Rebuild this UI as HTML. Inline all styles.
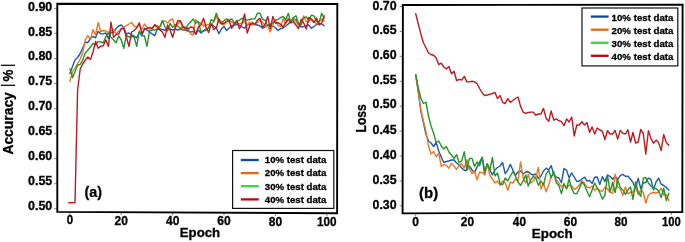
<!DOCTYPE html><html><head><meta charset="utf-8"><style>
html,body{margin:0;padding:0;background:#fff;width:685px;height:242px;overflow:hidden}
svg{display:block} text{font-family:"Liberation Sans", Arial, sans-serif;font-weight:bold;fill:#000;stroke:#000;stroke-width:0.3px}
</style></head><body>
<svg width="685" height="242" viewBox="0 0 685 242">
<clipPath id="ca"><rect x="57.3" y="4.0" width="279.9" height="207.8"/></clipPath>
<g clip-path="url(#ca)" fill="none" stroke-width="1.4" stroke-linejoin="round" stroke-linecap="round">
<polyline stroke="#1c5aaa" points="69.9,73.5 72.5,66.4 75.0,60.0 77.6,57.5 80.2,53.5 82.7,48.0 85.3,42.0 87.9,42.7 90.5,38.3 93.0,36.5 95.6,37.8 98.2,31.3 100.7,33.7 103.3,33.9 105.9,33.0 108.4,38.5 111.0,32.5 113.6,32.4 116.1,28.5 118.7,26.0 121.3,25.0 123.8,27.8 126.4,34.0 129.0,33.0 131.6,35.0 134.1,36.0 136.7,38.0 139.3,32.0 141.8,36.0 144.4,28.3 147.0,30.0 149.5,32.0 152.1,33.9 154.7,35.7 157.2,29.5 159.8,29.0 162.4,29.5 165.0,30.2 167.5,28.5 170.1,29.0 172.7,30.0 175.2,29.0 177.8,30.0 180.4,29.0 182.9,30.0 185.5,30.0 188.1,31.0 190.6,32.0 193.2,31.5 195.8,33.9 198.3,30.0 200.9,33.1 203.5,31.0 206.1,30.0 208.6,28.0 211.2,23.8 213.8,26.0 216.3,28.0 218.9,33.7 221.5,29.0 224.0,26.3 226.6,30.6 229.2,28.0 231.7,25.7 234.3,25.0 236.9,24.4 239.5,25.5 242.0,26.9 244.6,28.2 247.2,25.0 249.7,24.0 252.3,24.5 254.9,24.5 257.4,25.0 260.0,26.0 262.6,28.2 265.1,27.0 267.7,25.0 270.3,25.0 272.9,26.0 275.4,27.5 278.0,30.6 280.6,28.5 283.1,28.0 285.7,26.0 288.3,24.0 290.8,21.0 293.4,20.0 296.0,19.5 298.5,24.5 301.1,27.0 303.7,26.5 306.2,26.0 308.8,25.0 311.4,28.2 314.0,26.5 316.5,24.5 319.1,23.5 321.7,24.0 324.2,25.7"/>
<polyline stroke="#ee7622" points="69.9,81.4 72.5,72.0 75.0,68.0 77.6,63.6 80.2,59.0 82.7,53.0 85.3,39.6 87.9,35.7 90.5,39.5 93.0,29.6 95.6,35.0 98.2,22.5 100.7,31.5 103.3,30.5 105.9,31.0 108.4,32.4 111.0,31.0 113.6,29.3 116.1,34.3 118.7,31.0 121.3,29.0 123.8,26.9 126.4,25.6 129.0,24.0 131.6,22.5 134.1,26.0 136.7,26.9 139.3,24.4 141.8,29.3 144.4,24.0 147.0,27.5 149.5,29.0 152.1,27.5 154.7,26.0 157.2,25.5 159.8,27.0 162.4,22.0 165.0,21.0 167.5,23.0 170.1,20.0 172.7,19.0 175.2,28.0 177.8,24.0 180.4,21.0 182.9,30.0 185.5,27.0 188.1,28.0 190.6,34.0 193.2,35.0 195.8,19.6 198.3,22.5 200.9,23.0 203.5,26.0 206.1,25.0 208.6,24.5 211.2,24.0 213.8,22.0 216.3,16.4 218.9,22.5 221.5,24.0 224.0,24.5 226.6,22.5 229.2,20.1 231.7,22.0 234.3,24.0 236.9,23.0 239.5,24.0 242.0,22.5 244.6,21.5 247.2,25.0 249.7,22.0 252.3,24.5 254.9,24.0 257.4,22.5 260.0,20.5 262.6,22.0 265.1,26.0 267.7,25.5 270.3,31.9 272.9,24.5 275.4,20.0 278.0,25.5 280.6,26.5 283.1,18.9 285.7,24.0 288.3,19.5 290.8,21.5 293.4,17.5 296.0,21.5 298.5,25.0 301.1,22.5 303.7,16.0 306.2,21.5 308.8,22.0 311.4,18.5 314.0,21.5 316.5,23.8 319.1,22.0 321.7,19.0 324.2,20.7"/>
<polyline stroke="#22952a" points="69.9,68.6 72.5,77.7 75.0,71.8 77.6,65.0 80.2,64.5 82.7,60.0 85.3,53.0 87.9,50.0 90.5,47.0 93.0,43.3 95.6,45.2 98.2,41.4 100.7,42.0 103.3,42.7 105.9,36.5 108.4,33.0 111.0,37.1 113.6,40.0 116.1,42.7 118.7,36.0 121.3,40.0 123.8,48.3 126.4,35.2 129.0,37.0 131.6,36.5 134.1,37.0 136.7,46.3 139.3,31.0 141.8,35.5 144.4,36.0 147.0,46.3 149.5,31.0 152.1,30.0 154.7,30.0 157.2,28.8 159.8,27.0 162.4,20.5 165.0,27.0 167.5,31.0 170.1,23.3 172.7,27.4 175.2,24.6 177.8,26.0 180.4,28.3 182.9,27.0 185.5,28.3 188.1,24.6 190.6,22.0 193.2,19.0 195.8,23.3 198.3,21.5 200.9,31.9 203.5,30.6 206.1,29.0 208.6,28.0 211.2,19.5 213.8,21.3 216.3,13.3 218.9,20.1 221.5,22.6 224.0,20.7 226.6,18.9 229.2,20.1 231.7,18.9 234.3,23.2 236.9,21.3 239.5,20.1 242.0,18.3 244.6,19.5 247.2,20.1 249.7,19.5 252.3,18.9 254.9,18.9 257.4,13.3 260.0,13.3 262.6,19.5 265.1,20.1 267.7,25.7 270.3,24.4 272.9,22.6 275.4,20.1 278.0,19.5 280.6,17.6 283.1,16.4 285.7,20.0 288.3,13.3 290.8,22.5 293.4,17.5 296.0,15.8 298.5,23.8 301.1,25.0 303.7,17.6 306.2,17.0 308.8,20.0 311.4,15.2 314.0,16.0 316.5,21.5 319.1,22.0 321.7,13.3 324.2,18.3"/>
<polyline stroke="#bf1820" points="68.8,202.8 72.5,202.8 75.0,202.8 77.6,90.0 80.2,69.0 82.7,64.0 85.3,60.0 87.9,57.0 90.5,59.4 93.0,52.0 95.6,41.4 98.2,48.3 100.7,46.4 103.3,45.8 105.9,40.0 108.4,46.4 111.0,22.1 113.6,37.4 116.1,34.6 118.7,34.0 121.3,28.5 123.8,28.7 126.4,37.0 129.0,46.5 131.6,32.0 134.1,30.5 136.7,28.0 139.3,22.8 141.8,33.3 144.4,29.6 147.0,28.5 149.5,27.4 152.1,29.0 154.7,24.6 157.2,27.0 159.8,30.0 162.4,32.0 165.0,37.4 167.5,25.0 170.1,30.0 172.7,37.4 175.2,28.0 177.8,20.5 180.4,21.0 182.9,26.0 185.5,28.5 188.1,29.0 190.6,27.0 193.2,27.5 195.8,34.4 198.3,27.0 200.9,25.0 203.5,18.3 206.1,27.5 208.6,32.5 211.2,23.8 213.8,29.4 216.3,28.2 218.9,18.9 221.5,23.8 224.0,23.2 226.6,21.3 229.2,20.7 231.7,28.2 234.3,24.4 236.9,20.7 239.5,28.8 242.0,23.8 244.6,13.9 247.2,33.1 249.7,25.7 252.3,22.6 254.9,24.4 257.4,20.1 260.0,18.3 262.6,27.5 265.1,24.4 267.7,16.4 270.3,28.8 272.9,16.4 275.4,23.2 278.0,22.6 280.6,24.4 283.1,27.0 285.7,22.5 288.3,18.9 290.8,23.0 293.4,21.5 296.0,25.0 298.5,28.5 301.1,19.5 303.7,23.0 306.2,29.0 308.8,17.5 311.4,19.5 314.0,22.5 316.5,18.0 319.1,25.0 321.7,23.0 324.2,15.8"/>
</g>
<g stroke="#777" stroke-width="0.9">
<line x1="54.1" y1="8.4" x2="57.3" y2="8.4"/>
<line x1="54.1" y1="33.4" x2="57.3" y2="33.4"/>
<line x1="54.1" y1="58.5" x2="57.3" y2="58.5"/>
<line x1="54.1" y1="83.5" x2="57.3" y2="83.5"/>
<line x1="54.1" y1="108.6" x2="57.3" y2="108.6"/>
<line x1="54.1" y1="133.6" x2="57.3" y2="133.6"/>
<line x1="54.1" y1="158.6" x2="57.3" y2="158.6"/>
<line x1="54.1" y1="183.7" x2="57.3" y2="183.7"/>
<line x1="54.1" y1="208.7" x2="57.3" y2="208.7"/>
<line x1="69.9" y1="212.0" x2="69.9" y2="214.8"/>
<line x1="121.3" y1="212.2" x2="121.3" y2="215.0"/>
<line x1="172.7" y1="212.5" x2="172.7" y2="215.3"/>
<line x1="224.0" y1="212.7" x2="224.0" y2="215.5"/>
<line x1="275.4" y1="213.0" x2="275.4" y2="215.8"/>
<line x1="326.8" y1="213.2" x2="326.8" y2="216.0"/>
</g>
<path d="M57.3 3.8 L337.3 4.0 L337.1 213.3 L57.3 211.9 Z" fill="none" stroke="#000" stroke-width="1.9" stroke-linejoin="miter"/>
<text x="52.3" y="11.0" text-anchor="end" font-size="12.6" textLength="24.3" lengthAdjust="spacingAndGlyphs">0.90</text>
<text x="52.3" y="35.7" text-anchor="end" font-size="12.6" textLength="24.3" lengthAdjust="spacingAndGlyphs">0.85</text>
<text x="52.3" y="60.4" text-anchor="end" font-size="12.6" textLength="24.3" lengthAdjust="spacingAndGlyphs">0.80</text>
<text x="52.3" y="85.1" text-anchor="end" font-size="12.6" textLength="24.3" lengthAdjust="spacingAndGlyphs">0.75</text>
<text x="52.3" y="109.8" text-anchor="end" font-size="12.6" textLength="24.3" lengthAdjust="spacingAndGlyphs">0.70</text>
<text x="52.3" y="134.9" text-anchor="end" font-size="12.6" textLength="24.3" lengthAdjust="spacingAndGlyphs">0.65</text>
<text x="52.3" y="160.0" text-anchor="end" font-size="12.6" textLength="24.3" lengthAdjust="spacingAndGlyphs">0.60</text>
<text x="52.3" y="185.1" text-anchor="end" font-size="12.6" textLength="24.3" lengthAdjust="spacingAndGlyphs">0.55</text>
<text x="52.3" y="210.2" text-anchor="end" font-size="12.6" textLength="24.3" lengthAdjust="spacingAndGlyphs">0.50</text>
<text x="69.9" y="224.4" text-anchor="middle" font-size="12.6" textLength="6.4" lengthAdjust="spacingAndGlyphs">0</text>
<text x="121.3" y="224.7" text-anchor="middle" font-size="12.6" textLength="13.4" lengthAdjust="spacingAndGlyphs">20</text>
<text x="172.7" y="225.0" text-anchor="middle" font-size="12.6" textLength="13.4" lengthAdjust="spacingAndGlyphs">40</text>
<text x="224.0" y="225.3" text-anchor="middle" font-size="12.6" textLength="13.4" lengthAdjust="spacingAndGlyphs">60</text>
<text x="275.4" y="225.6" text-anchor="middle" font-size="12.6" textLength="13.4" lengthAdjust="spacingAndGlyphs">80</text>
<text x="326.8" y="225.9" text-anchor="middle" font-size="12.6" textLength="19.6" lengthAdjust="spacingAndGlyphs">100</text>
<text x="200.0" y="237.3" text-anchor="middle" font-size="13.2" textLength="40.4" lengthAdjust="spacingAndGlyphs">Epoch</text>
<text transform="translate(12.7,154.6) rotate(-90)" x="0" y="0" font-size="14.4" textLength="62.4" lengthAdjust="spacingAndGlyphs">Accuracy</text>
<text transform="translate(12.0,86.5) rotate(-90)" x="0" y="0" font-size="15.5" textLength="2.2" lengthAdjust="spacingAndGlyphs">|</text>
<text transform="translate(12.9,81.5) rotate(-90)" x="0" y="0" font-size="14.6" textLength="11.9" lengthAdjust="spacingAndGlyphs">%</text>
<text transform="translate(12.0,66.6) rotate(-90)" x="0" y="0" font-size="15.5" textLength="2.2" lengthAdjust="spacingAndGlyphs">|</text>
<text x="84.5" y="196.8" font-size="15" textLength="17.6" lengthAdjust="spacingAndGlyphs">(a)</text>
<rect x="232.6" y="150.5" width="101.20000000000002" height="57.900000000000006" fill="#fff" stroke="#111" stroke-width="1.2"/>
<line x1="240.8" y1="160.0" x2="258.8" y2="160.0" stroke="#0c4a94" stroke-width="2.3"/>
<text x="264.8" y="163.3" font-size="9.6" textLength="61.6" lengthAdjust="spacingAndGlyphs">10% test data</text>
<line x1="240.8" y1="173.1" x2="258.8" y2="173.1" stroke="#e8680f" stroke-width="2.3"/>
<text x="264.8" y="176.4" font-size="9.6" textLength="61.6" lengthAdjust="spacingAndGlyphs">20% test data</text>
<line x1="240.8" y1="186.2" x2="258.8" y2="186.2" stroke="#3ad83a" stroke-width="2.3"/>
<text x="264.8" y="189.5" font-size="9.6" textLength="61.6" lengthAdjust="spacingAndGlyphs">30% test data</text>
<line x1="240.8" y1="199.4" x2="258.8" y2="199.4" stroke="#b80a10" stroke-width="2.3"/>
<text x="264.8" y="202.7" font-size="9.6" textLength="61.6" lengthAdjust="spacingAndGlyphs">40% test data</text>
<clipPath id="cb"><rect x="402.8" y="4.6" width="279.8" height="208.8"/></clipPath>
<g clip-path="url(#cb)" fill="none" stroke-width="1.4" stroke-linejoin="round" stroke-linecap="round">
<polyline stroke="#bf1820" points="415.7,13.6 418.3,24.0 420.8,33.7 423.4,42.7 425.9,47.5 428.5,53.0 431.0,54.5 433.6,55.2 436.2,58.0 438.7,64.5 441.3,63.2 443.8,67.0 446.4,69.0 448.9,66.5 451.5,73.8 454.1,71.3 456.6,80.6 459.2,79.4 461.7,80.0 464.3,76.3 466.8,81.9 469.4,81.9 472.0,81.3 474.5,81.9 477.1,83.7 479.6,88.5 482.2,93.0 484.7,95.5 487.3,95.0 489.9,94.3 492.4,93.5 495.0,92.4 497.5,98.6 500.1,95.5 502.6,102.3 505.2,103.5 507.8,98.6 510.3,102.3 512.9,100.5 515.4,98.5 518.0,97.0 520.5,106.0 523.1,112.1 525.7,113.3 528.2,112.5 530.8,112.1 533.3,112.1 535.9,115.2 538.4,114.0 541.0,114.0 543.5,108.4 546.1,118.3 548.7,121.4 551.2,110.9 553.8,120.2 556.3,118.9 558.9,120.8 561.4,121.4 564.0,125.7 566.6,118.9 569.1,122.0 571.7,117.0 574.2,136.0 576.8,125.0 579.3,125.0 581.9,121.7 584.5,125.0 587.0,122.5 589.6,132.4 592.1,126.9 594.7,134.0 597.2,128.1 599.8,130.0 602.4,131.2 604.9,139.5 607.5,130.8 610.0,134.0 612.6,134.0 615.1,130.4 617.7,139.1 620.3,130.4 622.8,133.2 625.4,134.0 627.9,129.8 630.5,142.0 633.0,132.5 635.6,143.0 638.2,142.0 640.7,129.5 643.3,133.5 645.8,154.0 648.4,130.7 650.9,138.4 653.5,143.2 656.1,140.1 658.6,142.6 661.2,150.6 663.7,134.5 666.3,142.6 668.8,145.3"/>
<polyline stroke="#1c5aaa" points="415.7,74.7 418.3,92.0 420.8,111.0 423.4,122.5 425.9,134.0 428.5,141.0 431.0,143.0 433.6,146.5 436.2,142.5 438.7,151.0 441.3,157.0 443.8,162.5 446.4,161.5 448.9,161.0 451.5,160.0 454.1,160.0 456.6,163.0 459.2,165.0 461.7,168.0 464.3,170.2 466.8,170.2 469.4,166.0 472.0,170.0 474.5,172.6 477.1,166.9 479.6,162.0 482.2,157.6 484.7,174.9 487.3,163.8 489.9,170.0 492.4,174.9 495.0,170.0 497.5,167.5 500.1,166.0 502.6,162.5 505.2,173.7 507.8,170.0 510.3,164.4 512.9,170.0 515.4,175.5 518.0,172.0 520.5,171.0 523.1,174.0 525.7,172.0 528.2,171.8 530.8,174.0 533.3,175.0 535.9,174.0 538.4,178.6 541.0,176.0 543.5,171.0 546.1,168.1 548.7,170.0 551.2,165.6 553.8,174.7 556.3,177.2 558.9,178.0 561.4,182.8 564.0,168.5 566.6,170.4 569.1,177.8 571.7,172.9 574.2,177.0 576.8,181.5 579.3,181.0 581.9,179.0 584.5,177.2 587.0,181.0 589.6,180.5 592.1,183.4 594.7,177.2 597.2,177.0 599.8,184.6 602.4,176.6 604.9,181.5 607.5,175.0 610.0,176.3 612.6,179.3 615.1,176.3 617.7,179.3 620.3,175.6 622.8,174.4 625.4,176.3 627.9,176.3 630.5,179.3 633.0,182.4 635.6,188.6 638.2,178.1 640.7,188.6 643.3,183.0 645.8,182.4 648.4,178.0 650.9,179.3 653.5,189.9 656.1,181.8 658.6,178.1 661.2,184.3 663.7,185.5 666.3,187.4 668.8,189.9"/>
<polyline stroke="#ee7622" points="415.7,74.7 418.3,92.0 420.8,110.0 423.4,121.0 425.9,131.0 428.5,146.0 431.0,154.0 433.6,151.6 436.2,156.5 438.7,153.4 441.3,166.4 443.8,164.6 446.4,165.2 448.9,168.3 451.5,163.3 454.1,166.4 456.6,169.5 459.2,165.2 461.7,164.0 464.3,168.0 466.8,159.6 469.4,169.0 472.0,173.7 474.5,170.8 477.1,179.9 479.6,172.0 482.2,172.6 484.7,174.5 487.3,163.8 489.9,175.5 492.4,179.0 495.0,183.0 497.5,181.0 500.1,185.3 502.6,181.0 505.2,182.8 507.8,190.3 510.3,182.2 512.9,183.0 515.4,179.1 518.0,181.0 520.5,161.9 523.1,178.0 525.7,183.0 528.2,174.3 530.8,183.0 533.3,181.0 535.9,177.0 538.4,167.5 541.0,189.0 543.5,183.0 546.1,191.8 548.7,185.0 551.2,176.0 553.8,174.1 556.3,180.0 558.9,183.0 561.4,187.0 564.0,184.0 566.6,188.7 569.1,185.0 571.7,186.0 574.2,189.3 576.8,188.0 579.3,185.0 581.9,180.9 584.5,183.0 587.0,187.0 589.6,188.0 592.1,186.0 594.7,190.5 597.2,188.0 599.8,190.5 602.4,191.3 604.9,187.0 607.5,189.0 610.0,192.4 612.6,193.2 615.1,174.1 617.7,187.0 620.3,189.0 622.8,195.5 625.4,187.0 627.9,193.8 630.5,192.5 633.0,192.0 635.6,188.2 638.2,194.4 640.7,190.0 643.3,192.5 645.8,203.0 648.4,195.0 650.9,193.2 653.5,192.5 656.1,193.0 658.6,192.0 661.2,188.2 663.7,195.0 666.3,194.5 668.8,200.6"/>
<polyline stroke="#22952a" points="415.7,74.7 418.3,88.0 420.8,98.0 423.4,103.5 425.9,102.0 428.5,116.0 431.0,126.0 433.6,133.0 436.2,142.5 438.7,141.0 441.3,146.0 443.8,149.0 446.4,146.5 448.9,152.0 451.5,155.0 454.1,158.4 456.6,154.7 459.2,162.7 461.7,160.9 464.3,151.6 466.8,169.5 469.4,158.4 472.0,158.4 474.5,166.4 477.1,162.0 479.6,165.8 482.2,157.2 484.7,171.0 487.3,164.0 489.9,170.0 492.4,157.5 495.0,176.0 497.5,173.0 500.1,183.5 502.6,184.7 505.2,178.0 507.8,181.0 510.3,176.0 512.9,171.5 515.4,176.0 518.0,182.0 520.5,185.3 523.1,181.0 525.7,175.0 528.2,186.0 530.8,180.0 533.3,176.5 535.9,178.0 538.4,185.3 541.0,181.0 543.5,185.0 546.1,174.1 548.7,170.4 551.2,177.8 553.8,171.6 556.3,182.8 558.9,185.6 561.4,193.6 564.0,183.7 566.6,188.7 569.1,179.0 571.7,188.7 574.2,193.6 576.8,193.6 579.3,188.7 581.9,182.0 584.5,185.0 587.0,191.2 589.6,196.7 592.1,190.0 594.7,183.0 597.2,188.0 599.8,192.4 602.4,199.2 604.9,195.5 607.5,175.0 610.0,192.0 612.6,182.5 615.1,192.5 617.7,180.0 620.3,187.6 622.8,190.0 625.4,194.4 627.9,190.0 630.5,187.0 633.0,199.3 635.6,181.8 638.2,192.0 640.7,196.3 643.3,178.1 645.8,177.5 648.4,183.0 650.9,186.0 653.5,188.6 656.1,188.5 658.6,191.0 661.2,197.5 663.7,188.2 666.3,200.6 668.8,193.2"/>
</g>
<g stroke="#777" stroke-width="0.9">
<line x1="399.6" y1="6.5" x2="402.8" y2="6.5"/>
<line x1="399.6" y1="31.4" x2="402.8" y2="31.4"/>
<line x1="399.6" y1="56.3" x2="402.8" y2="56.3"/>
<line x1="399.6" y1="81.3" x2="402.8" y2="81.3"/>
<line x1="399.6" y1="106.2" x2="402.8" y2="106.2"/>
<line x1="399.6" y1="131.1" x2="402.8" y2="131.1"/>
<line x1="399.6" y1="156.1" x2="402.8" y2="156.1"/>
<line x1="399.6" y1="181.0" x2="402.8" y2="181.0"/>
<line x1="399.6" y1="205.9" x2="402.8" y2="205.9"/>
<line x1="415.7" y1="213.3" x2="415.7" y2="216.1"/>
<line x1="466.8" y1="213.1" x2="466.8" y2="215.9"/>
<line x1="518.0" y1="212.8" x2="518.0" y2="215.6"/>
<line x1="569.1" y1="212.6" x2="569.1" y2="215.4"/>
<line x1="620.3" y1="212.3" x2="620.3" y2="215.1"/>
<line x1="671.4" y1="212.1" x2="671.4" y2="214.9"/>
</g>
<path d="M402.9 5.0 L682.6 4.6 L682.3 212.0 L402.6 213.4 Z" fill="none" stroke="#000" stroke-width="1.9" stroke-linejoin="miter"/>
<text x="396.6" y="9.5" text-anchor="end" font-size="12.6" textLength="24.1" lengthAdjust="spacingAndGlyphs">0.70</text>
<text x="396.6" y="34.2" text-anchor="end" font-size="12.6" textLength="24.1" lengthAdjust="spacingAndGlyphs">0.65</text>
<text x="396.6" y="58.9" text-anchor="end" font-size="12.6" textLength="24.1" lengthAdjust="spacingAndGlyphs">0.60</text>
<text x="396.6" y="83.6" text-anchor="end" font-size="12.6" textLength="24.1" lengthAdjust="spacingAndGlyphs">0.55</text>
<text x="396.6" y="108.3" text-anchor="end" font-size="12.6" textLength="24.1" lengthAdjust="spacingAndGlyphs">0.50</text>
<text x="396.6" y="133.5" text-anchor="end" font-size="12.6" textLength="24.1" lengthAdjust="spacingAndGlyphs">0.45</text>
<text x="396.6" y="158.6" text-anchor="end" font-size="12.6" textLength="24.1" lengthAdjust="spacingAndGlyphs">0.40</text>
<text x="396.6" y="183.8" text-anchor="end" font-size="12.6" textLength="24.1" lengthAdjust="spacingAndGlyphs">0.35</text>
<text x="396.6" y="209.0" text-anchor="end" font-size="12.6" textLength="24.1" lengthAdjust="spacingAndGlyphs">0.30</text>
<text x="415.7" y="225.8" text-anchor="middle" font-size="12.6" textLength="6.7" lengthAdjust="spacingAndGlyphs">0</text>
<text x="467.4" y="225.8" text-anchor="middle" font-size="12.6" textLength="13.2" lengthAdjust="spacingAndGlyphs">20</text>
<text x="519.4" y="225.8" text-anchor="middle" font-size="12.6" textLength="13.2" lengthAdjust="spacingAndGlyphs">40</text>
<text x="570.5" y="225.8" text-anchor="middle" font-size="12.6" textLength="13.4" lengthAdjust="spacingAndGlyphs">60</text>
<text x="621.1" y="225.8" text-anchor="middle" font-size="12.6" textLength="13.0" lengthAdjust="spacingAndGlyphs">80</text>
<text x="671.4" y="225.8" text-anchor="middle" font-size="12.6" textLength="18.8" lengthAdjust="spacingAndGlyphs">100</text>
<text x="552.3" y="237.5" text-anchor="middle" font-size="13.2" textLength="40.9" lengthAdjust="spacingAndGlyphs">Epoch</text>
<text transform="translate(366.4,132.5) rotate(-90)" x="0" y="0" font-size="14.8" textLength="28.3" lengthAdjust="spacingAndGlyphs">Loss</text>
<text x="419.1" y="197.7" font-size="15" textLength="19.1" lengthAdjust="spacingAndGlyphs">(b)</text>
<rect x="582.0" y="8.0" width="95.79999999999995" height="57.900000000000006" fill="#fff" stroke="#111" stroke-width="1.2"/>
<line x1="590.8" y1="16.6" x2="608.6" y2="16.6" stroke="#0c4a94" stroke-width="2.3"/>
<text x="611.6" y="20.7" font-size="9.6" textLength="61.9" lengthAdjust="spacingAndGlyphs">10% test data</text>
<line x1="590.8" y1="29.7" x2="608.6" y2="29.7" stroke="#e8680f" stroke-width="2.3"/>
<text x="611.6" y="33.8" font-size="9.6" textLength="61.9" lengthAdjust="spacingAndGlyphs">20% test data</text>
<line x1="590.8" y1="42.8" x2="608.6" y2="42.8" stroke="#3ad83a" stroke-width="2.3"/>
<text x="611.6" y="46.9" font-size="9.6" textLength="61.9" lengthAdjust="spacingAndGlyphs">30% test data</text>
<line x1="590.8" y1="55.8" x2="608.6" y2="55.8" stroke="#b80a10" stroke-width="2.3"/>
<text x="611.6" y="59.9" font-size="9.6" textLength="61.9" lengthAdjust="spacingAndGlyphs">40% test data</text>
</svg></body></html>
